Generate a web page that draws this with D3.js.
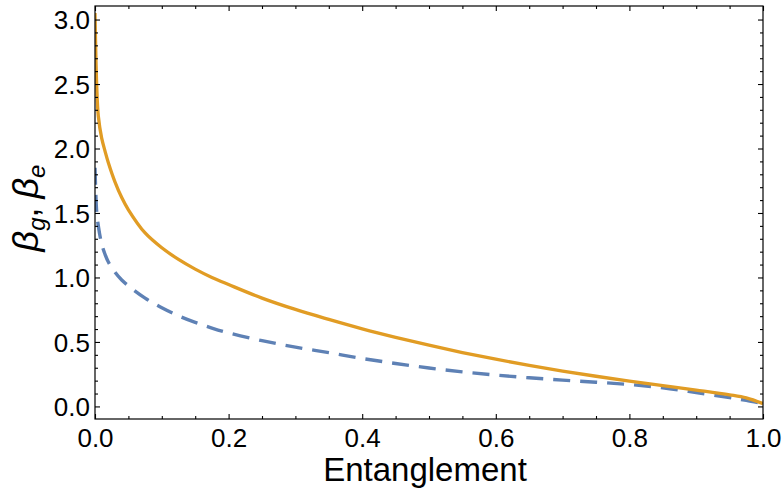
<!DOCTYPE html>
<html>
<head>
<meta charset="utf-8">
<script src="https://cdn.jsdelivr.net/npm/d3@7"></script>
<style>
  html, body { margin: 0; padding: 0; background: #fff; }
  svg { display: block; }
  text { font-family: "Liberation Sans", Arial, sans-serif; fill: #000; }
</style>
</head>
<body>
<svg id="chart" width="784" height="500"></svg>
<script>
// ---- data ----
const entanglement = [0, 0.0025, 0.005, 0.01, 0.015, 0.02, 0.03, 0.04, 0.05, 0.075, 0.1, 0.125, 0.15, 0.175, 0.2, 0.25, 0.3, 0.35, 0.4, 0.45, 0.5, 0.55, 0.6, 0.65, 0.7, 0.75, 0.8, 0.85, 0.9, 0.95, 0.975, 1.0];
const betaSolid = [3.05, 2.5, 2.25, 2.08, 1.98, 1.89, 1.74, 1.62, 1.525, 1.345, 1.23, 1.14, 1.065, 1.0, 0.945, 0.84, 0.752, 0.675, 0.602, 0.536, 0.475, 0.418, 0.366, 0.318, 0.274, 0.234, 0.197, 0.162, 0.127, 0.09, 0.066, 0.022];
const betaDashed = [1.85, 1.51, 1.4, 1.26, 1.18, 1.12, 1.04, 0.98, 0.935, 0.84, 0.765, 0.703, 0.652, 0.608, 0.57, 0.51, 0.46, 0.417, 0.372, 0.333, 0.298, 0.268, 0.243, 0.222, 0.204, 0.188, 0.17, 0.145, 0.108, 0.068, 0.047, 0.022];
const xMajorTicks = [0, 0.2, 0.4, 0.6, 0.8, 1.0];
const xTickLabels = ["0.0", "0.2", "0.4", "0.6", "0.8", "1.0"];
const yMajorTicks = [0, 0.5, 1.0, 1.5, 2.0, 2.5, 3.0];
const yTickLabels = ["0.0", "0.5", "1.0", "1.5", "2.0", "2.5", "3.0"];
const xLabel = "Entanglement";

// ---- layout ----
const svg = d3.select("#chart");
const L = 95, R = 763, T = 6, B = 419;
const x = d3.scaleLinear().domain([0, 1]).range([L, R]);
const y = d3.scaleLinear().domain([-0.0975, 3.105]).range([B, T]);

const xMinor = d3.range(0, 1.0001, 0.05).filter(v => !xMajorTicks.some(m => Math.abs(m - v) < 1e-6));
const yMinor = d3.range(0, 3.1, 0.1).filter(v => !yMajorTicks.some(m => Math.abs(m - v) < 1e-6));

const colSolid = "#E19C24", colDashed = "#5E81B5";

// curves
svg.append("clipPath").attr("id", "clip").append("rect")
  .attr("x", L).attr("y", T).attr("width", R - L).attr("height", B - T);

const line = d3.line().curve(d3.curveCatmullRom.alpha(0.5))
  .x(d => x(d[0])).y(d => y(d[1]));

const gPlot = svg.append("g").attr("clip-path", "url(#clip)");
gPlot.append("path")
  .datum(entanglement.map((e, i) => [e, betaDashed[i]]))
  .attr("d", line).attr("fill", "none")
  .attr("stroke", colDashed).attr("stroke-width", 3.4)
  .attr("stroke-dasharray", "17,10");
gPlot.append("path")
  .datum(entanglement.map((e, i) => [e, betaSolid[i]]))
  .attr("d", line).attr("fill", "none")
  .attr("stroke", colSolid).attr("stroke-width", 3.3);

// axes (frame with inward ticks on all sides)
const majLen = 5, minLen = 3;
const axB = d3.axisBottom(x).tickValues(xMajorTicks).tickSize(-majLen).tickFormat((d, i) => xTickLabels[i]);
const axBm = d3.axisBottom(x).tickValues(xMinor).tickSize(-minLen).tickFormat("");
const axT = d3.axisTop(x).tickValues(xMajorTicks).tickSize(-majLen).tickFormat("");
const axTm = d3.axisTop(x).tickValues(xMinor).tickSize(-minLen).tickFormat("");
const axL = d3.axisLeft(y).tickValues(yMajorTicks).tickSize(-majLen).tickFormat((d, i) => yTickLabels[i]);
const axLm = d3.axisLeft(y).tickValues(yMinor).tickSize(-minLen).tickFormat("");
const axR = d3.axisRight(y).tickValues(yMajorTicks).tickSize(-majLen).tickFormat("");
const axRm = d3.axisRight(y).tickValues(yMinor).tickSize(-minLen).tickFormat("");

function styleAxis(g) {
  g.select(".domain").remove();
  g.selectAll(".tick line").attr("stroke", "#000").attr("stroke-width", 1.1);
  g.selectAll(".tick text").style("font-family", "'Liberation Sans', Arial, sans-serif")
    .style("font-size", "26px").attr("fill", "#000");
}
svg.append("g").attr("transform", `translate(0,${B})`).call(axB).call(styleAxis)
  .selectAll(".tick text").attr("y", 447 - B).attr("dy", null);
svg.append("g").attr("transform", `translate(0,${B})`).call(axBm).call(styleAxis);
svg.append("g").attr("transform", `translate(0,${T})`).call(axT).call(styleAxis);
svg.append("g").attr("transform", `translate(0,${T})`).call(axTm).call(styleAxis);
svg.append("g").attr("transform", `translate(${L},0)`).call(axL).call(styleAxis)
  .selectAll(".tick text").attr("x", -5).attr("dy", "0.36em");
svg.append("g").attr("transform", `translate(${L},0)`).call(axLm).call(styleAxis);
svg.append("g").attr("transform", `translate(${R},0)`).call(axR).call(styleAxis);
svg.append("g").attr("transform", `translate(${R},0)`).call(axRm).call(styleAxis);

svg.append("rect").attr("x", L).attr("y", T).attr("width", R - L).attr("height", B - T)
  .attr("fill", "none").attr("stroke", "#000").attr("stroke-width", 1.2);

// axis labels
svg.append("text").attr("x", 425).attr("y", 481)
  .attr("text-anchor", "middle").style("font-size", "33px").text(xLabel);

const yl = svg.append("text").attr("transform", "translate(38,208) rotate(-90)")
  .attr("text-anchor", "middle").style("font-size", "36px");
yl.append("tspan").style("font-style", "italic").text("β");
yl.append("tspan").attr("dy", 7).style("font-size", "24px").style("font-style", "italic").text("g");
yl.append("tspan").attr("dy", -7).text(",");
yl.append("tspan").attr("dx", 9).style("font-style", "italic").text("β");
yl.append("tspan").attr("dy", 7).style("font-size", "24px").style("font-style", "italic").text("e");
</script>
</body>
</html>
